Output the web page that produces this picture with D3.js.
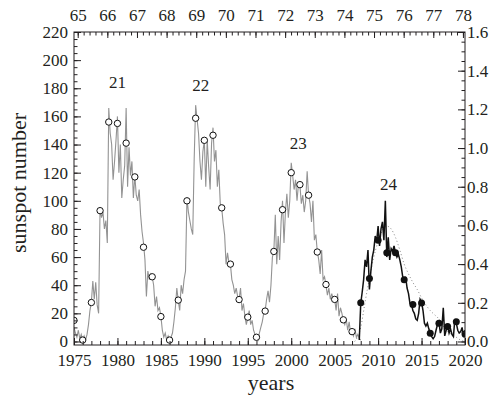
<!DOCTYPE html>
<html>
<head>
<meta charset="utf-8">
<script src="https://cdnjs.cloudflare.com/ajax/libs/d3/7.8.5/d3.min.js"></script>
<style>
  body { margin: 0; background: #fff; }
  svg { display: block; }
</style>
</head>
<body>
<div id="chart-area"></div>
<script>
let margin = { left: 74, right: 30, top: 32, bottom: 51 };
let width = 495 - margin.left - margin.right;
let height = 396 - margin.top - margin.bottom;
let serif = '"Liberation Serif", "Times New Roman", serif';

// bimonthly sunspot numbers, cycles 21-23 (grey) and 24 (black)
let stepYears = 1 / 6;
let grayStart = 1975;
let grayValues = [
  10, 6, 3, 8, 2, 5,
  1, 4, 1, 5, 12, 22,
  28, 43, 30, 42, 26, 20,
  95, 88, 92, 80, 86, 70,
  166, 148, 140, 115, 128, 143,
  160, 120, 140, 102, 115, 125,
  166, 110, 138, 118, 128, 102,
  118, 104, 100, 108, 90, 78,
  70, 58, 32, 50, 44, 48,
  46, 40, 25, 32, 22, 24,
  18, 8, 3, 6, 1, 4,
  1, 3, 6, 14, 24, 38,
  29, 22, 40, 34, 44, 50,
  102, 92, 86, 80, 76, 130,
  168, 158, 148, 128, 115, 135,
  143, 110, 143, 124, 108, 141,
  152, 128, 136, 110, 122, 98,
  95, 84, 76, 55, 63, 56,
  55, 44, 40, 34, 38, 32,
  30, 38, 22, 27, 18, 12,
  17, 22, 12, 15, 8, 5,
  3, 1, 6, 10, 14, 20,
  22, 30, 36, 28, 40, 60,
  64, 90, 55, 75, 58, 85,
  100, 70, 92, 105, 88, 100,
  127, 118, 108, 115, 100, 112,
  111, 98, 104, 92, 100, 121,
  104, 98, 85, 100, 72, 76,
  64, 58, 48, 65, 44, 46,
  40, 33, 38, 30, 34, 30,
  30, 22, 34, 18, 24, 20,
  15, 12, 16, 8, 14, 6,
  7, 4, 9, 3, 5, 2,
  1
];

let blackStart = 2007 + 5 / 6;
let blackValues = [
  1,
  27, 35, 44, 58, 53, 65,
  37, 50, 60, 65, 75, 71,
  82, 68, 80, 85, 72, 100,
  60, 74, 58, 66, 64, 68,
  63, 60, 62, 58, 53, 46,
  42, 46, 38, 34, 27, 27,
  22, 20, 16, 15, 20, 30,
  28, 22, 13, 11, 13, 9,
  6, 3.5, 2, 3.5, 8, 12,
  14, 6, 9, 24, 4, 8,
  11, 6, 9, 5, 3.5, 16,
  13, 8, 6, 7, 10, 3,
  8
];

// yearly means
let openYears = [1975, 1976, 1977, 1978, 1979, 1980, 1981, 1982, 1983, 1984, 1985,
  1986, 1987, 1988, 1989, 1990, 1991, 1992, 1993, 1994, 1995, 1996,
  1997, 1998, 1999, 2000, 2001, 2002, 2003, 2004, 2005, 2006, 2007];
let openValues = [15, 1, 27.7, 93, 156, 155, 141, 117, 67, 46, 17.7,
  1, 29.4, 100, 158.7, 143, 146.6, 95, 55, 29.8, 17.3, 3,
  21.6, 64, 93.7, 120, 111.5, 104, 63.6, 40.5, 29.9, 15.4, 7];

let filledYears = [2008, 2009, 2010, 2011, 2012, 2013, 2014, 2015, 2016, 2017, 2018, 2019, 2020];
let filledValues = [27.5, 44.8, 72, 63, 63, 43.9, 26.3, 27.3, 5.9, 13, 10.6, 14, 5.4];

// smooth fit of cycle 24 (dotted)
let fitYears = [2007.3, 2008, 2008.5, 2009, 2009.5, 2010, 2010.5, 2011, 2011.5, 2012, 2012.5,
  2013, 2013.5, 2014, 2014.5, 2015, 2015.5, 2016, 2016.5, 2017, 2017.5, 2018, 2018.5,
  2019, 2019.5, 2020];
let fitValues = [0, 10, 28, 45, 60, 71, 79, 82, 80, 74, 65,
  55, 48, 42, 37, 31, 26, 22, 19, 16, 11, 7, 5,
  3, 1, 0];

let cycleLabels = ['21', '22', '23', '24'];
let cycleLabelYears = [1980, 1989.6, 2000.8, 2011.2];
let cycleLabelValues = [180, 178, 137, 108];

let bottomTicks = [1975, 1980, 1985, 1990, 1995, 2000, 2005, 2010, 2015, 2020];
let leftTicks = [0, 20, 40, 60, 80, 100, 120, 140, 160, 180, 200, 220];
let rightTicks = [0, 0.2, 0.4, 0.6, 0.8, 1.0, 1.2, 1.4, 1.6];
let topTicks = [65, 66, 67, 68, 69, 70, 71, 72, 73, 74, 75, 76, 77, 78];

let svg = d3.select('#chart-area').append('svg')
  .attr('width', width + margin.left + margin.right)
  .attr('height', height + margin.top + margin.bottom);

let g = svg.append('g')
  .attr('transform', `translate(${margin.left}, ${margin.top})`);

let x = d3.scaleLinear().domain([1975, 2020]).range([0, width]);
let y = d3.scaleLinear().domain([-2.5, 220]).range([height, 0]);
let yRight = d3.scaleLinear().domain([-2.5 / 137.5, 1.6]).range([height, 0]);
let xTop = d3.scaleLinear().domain([64.875, 78.07]).range([0, width]);

g.append('clipPath').attr('id', 'clip')
  .append('rect').attr('width', width).attr('height', height);

let plot = g.append('g').attr('clip-path', 'url(#clip)');

let gray = grayValues.map((v, i) => ({ year: grayStart + i * stepYears, value: v }));
let black = blackValues.map((v, i) => ({ year: blackStart + i * stepYears, value: v }));
let fit = fitYears.map((yr, i) => ({ year: yr, value: fitValues[i] }));

let line = d3.line()
  .x(d => x(d.year))
  .y(d => y(d.value));

plot.append('path')
  .datum(gray)
  .attr('d', line)
  .attr('fill', 'none')
  .attr('stroke', '#939393')
  .attr('stroke-width', 1.1);

plot.append('path')
  .datum(fit)
  .attr('d', line.curve(d3.curveMonotoneX))
  .attr('fill', 'none')
  .attr('stroke', '#888')
  .attr('stroke-width', 1)
  .attr('stroke-dasharray', '1,2.5');

line.curve(d3.curveLinear);

plot.append('path')
  .datum(black)
  .attr('d', line)
  .attr('fill', 'none')
  .attr('stroke', '#111')
  .attr('stroke-width', 1.5);

plot.selectAll('circle.open')
  .data(openYears)
  .enter()
  .append('circle')
  .attr('class', 'open')
  .attr('cx', d => x(d))
  .attr('cy', (d, i) => y(openValues[i]))
  .attr('r', 3.2)
  .attr('fill', '#fff')
  .attr('stroke', '#111')
  .attr('stroke-width', 1);

plot.selectAll('circle.filled')
  .data(filledYears)
  .enter()
  .append('circle')
  .attr('class', 'filled')
  .attr('cx', d => x(d))
  .attr('cy', (d, i) => y(filledValues[i]))
  .attr('r', 3.5)
  .attr('fill', '#111');

g.selectAll('text.cycle')
  .data(cycleLabels)
  .enter()
  .append('text')
  .attr('class', 'cycle')
  .attr('x', (d, i) => x(cycleLabelYears[i]))
  .attr('y', (d, i) => y(cycleLabelValues[i]))
  .attr('text-anchor', 'middle')
  .attr('fill', '#231f20')
  .style('font-family', serif)
  .style('font-size', '17px')
  .text(d => d);

// axes, ticks pointing inward
function minorTicks(lo, hi, step) {
  let out = [];
  for (let v = lo; v <= hi + 1e-9; v += step) out.push(+v.toFixed(3));
  return out;
}

g.append('g')
  .attr('transform', `translate(0, ${height})`)
  .call(d3.axisBottom(x).tickValues(minorTicks(1975, 2020, 1)).tickSize(-4).tickFormat(''));
g.append('g')
  .attr('transform', `translate(0, ${height})`)
  .call(d3.axisBottom(x).tickValues(bottomTicks).tickSize(-7).tickPadding(9).tickFormat(d3.format('d')));

g.append('g')
  .call(d3.axisLeft(y).tickValues(minorTicks(0, 220, 5)).tickSize(-3.5).tickFormat(''));
g.append('g')
  .call(d3.axisLeft(y).tickValues(leftTicks).tickSize(-7).tickPadding(6));

g.append('g')
  .attr('transform', `translate(${width}, 0)`)
  .call(d3.axisRight(yRight).tickValues(minorTicks(0, 1.6, 0.05)).tickSize(-3.5).tickFormat(''));
g.append('g')
  .attr('transform', `translate(${width}, 0)`)
  .call(d3.axisRight(yRight).tickValues(rightTicks).tickSize(-7).tickPadding(2).tickFormat(d3.format('.1f')));

g.append('g')
  .call(d3.axisTop(xTop).tickValues(minorTicks(65, 78, 0.2)).tickSize(-3.5).tickFormat(''));
g.append('g')
  .call(d3.axisTop(xTop).tickValues(topTicks).tickSize(-6).tickPadding(11));

g.selectAll('.domain').remove();
g.selectAll('.tick line').attr('stroke', '#231f20');
g.selectAll('.tick text')
  .style('font-family', serif)
  .style('font-size', '17px')
  .attr('fill', '#231f20');

g.append('rect')
  .attr('width', width)
  .attr('height', height)
  .attr('fill', 'none')
  .attr('stroke', '#231f20')
  .attr('stroke-width', 1);

svg.append('text')
  .attr('transform', 'translate(26, 183) rotate(-90)')
  .attr('text-anchor', 'middle')
  .attr('fill', '#231f20')
  .style('font-family', serif)
  .style('font-size', '22px')
  .text('sunspot number');

svg.append('text')
  .attr('x', 271)
  .attr('y', 390)
  .attr('text-anchor', 'middle')
  .attr('fill', '#231f20')
  .style('font-family', serif)
  .style('font-size', '22px')
  .text('years');
</script>
</body>
</html>
